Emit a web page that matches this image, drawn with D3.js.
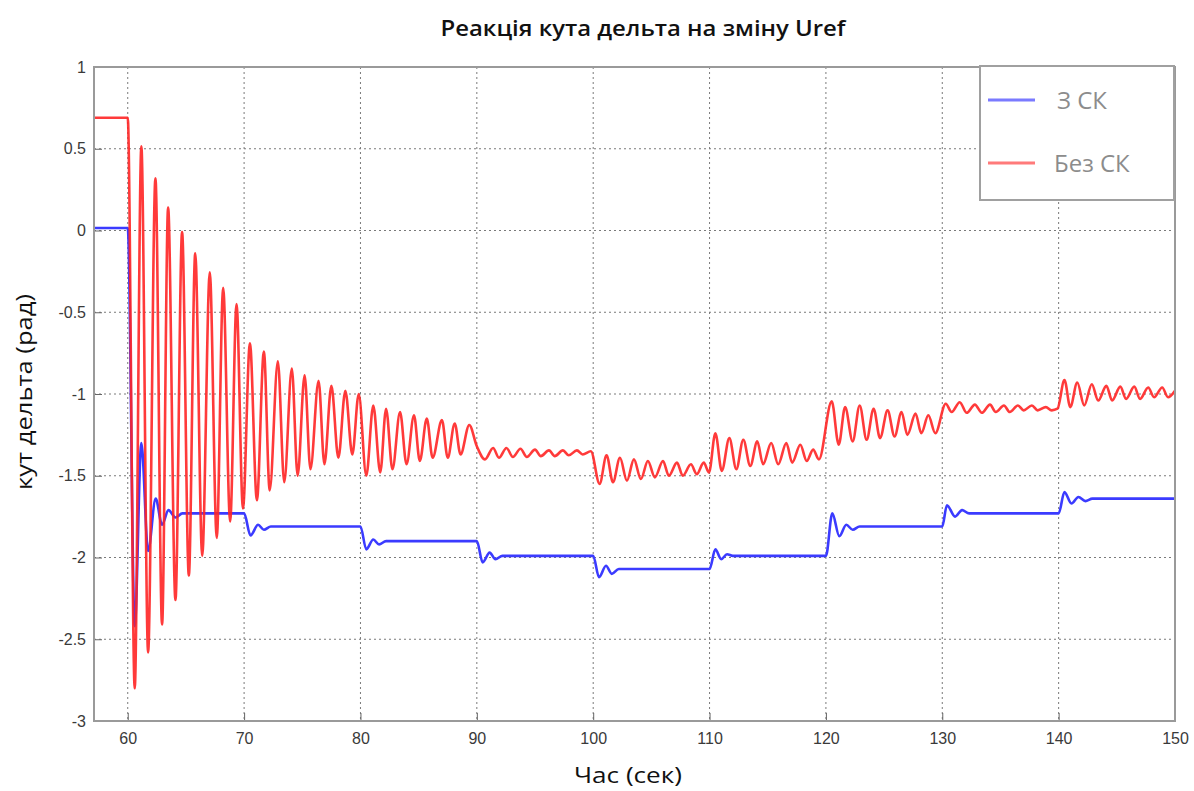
<!DOCTYPE html>
<html>
<head>
<meta charset="utf-8">
<script src="https://cdn.jsdelivr.net/npm/d3@7"></script>
<style>
  body { margin: 0; background: #fff; }
  .tick text { font-family: "Liberation Sans", Arial, sans-serif; font-size: 16px; fill: #3a3a3a; }
</style>
</head>
<body>
<svg width="1194" height="791"></svg>
<script>
// values: peaks / troughs of the delta angle response
var timeBlue = [57.1, 60.0, 60.6, 61.17, 61.75, 62.4, 62.95, 63.5, 64.1, 64.7, 70.0,
  70.55, 71.2, 71.7, 72.3, 80.0, 80.5, 81.1, 81.6, 82.2, 90.0, 90.5, 91.1, 91.6, 92.2,
  100.0, 100.5, 101.1, 101.6, 102.2, 110.0, 110.5, 111.0, 111.5, 112.0,
  120.0, 120.55, 121.15, 121.75, 122.3, 122.9, 130.0, 130.4, 131.1, 131.7, 132.3,
  140.0, 140.5, 141.1, 141.7, 142.3, 142.9, 150.0];
var deltaBlue = [0.015, 0.015, -2.42, -1.30, -1.96, -1.64, -1.80, -1.71, -1.755, -1.73, -1.73,
  -1.865, -1.80, -1.83, -1.81, -1.81, -1.95, -1.89, -1.92, -1.90, -1.90, -2.03, -1.97, -2.01, -1.99,
  -1.99, -2.12, -2.05, -2.10, -2.07, -2.07, -1.95, -2.01, -1.98, -1.99,
  -1.99, -1.73, -1.87, -1.80, -1.83, -1.81, -1.81, -1.68, -1.75, -1.71, -1.73,
  -1.73, -1.60, -1.67, -1.63, -1.655, -1.64, -1.64];

var timeRed = [57.1, 60.0, 60.6, 61.17, 61.75, 62.38, 62.95, 63.47, 64.1, 64.67, 65.25, 65.8,
  66.4, 67.05, 67.65, 68.2, 68.8, 69.35, 69.9, 70.5, 71.1, 71.7, 72.2, 72.9, 73.45, 74.1,
  74.6, 75.2, 75.7, 76.4, 76.9, 77.5, 78.1, 78.7, 79.3, 79.85, 80.5, 81.1, 81.7, 82.2,
  82.75, 83.4, 83.96, 84.6, 85.1, 85.7, 86.2, 87.0, 87.5, 88.1, 88.6, 89.35, 90.0, 90.7,
  91.4, 91.9, 92.55, 93.1, 93.75, 94.3, 95.0, 95.5, 96.2, 96.7, 97.4, 97.9, 98.6, 99.1,
  99.8, 100.55, 101.15, 101.7, 102.3, 102.9, 103.5, 104.1, 104.7, 105.3, 106.0, 106.5,
  107.2, 107.7, 108.4, 108.9, 109.5, 109.95, 110.5, 111.05, 111.7, 112.3, 112.9, 113.5,
  114.1, 114.6, 115.3, 115.9, 116.6, 117.1, 117.8, 118.35, 118.9, 119.4, 120.5, 121.1,
  121.65, 122.3, 122.9, 123.5, 124.1, 124.65, 125.3, 125.9, 126.5, 127.0, 127.7, 128.2,
  128.8, 129.4, 130.3, 130.8, 131.5, 132.1, 132.8, 133.4, 134.1, 134.6, 135.3, 135.8,
  136.5, 137.0, 137.7, 138.2, 138.9, 139.4, 139.9, 140.5, 141.0, 141.6, 142.2, 142.85,
  143.4, 144.1, 144.6, 145.3, 145.8, 146.5, 147.0, 147.7, 148.2, 148.9, 149.4, 150.0];
var deltaRed = [0.69, 0.69, -2.80, 0.515, -2.58, 0.32, -2.41, 0.14, -2.26, -0.01, -2.11, -0.14,
  -1.99, -0.256, -1.88, -0.35, -1.78, -0.45, -1.70, -0.69, -1.65, -0.74, -1.59, -0.80, -1.54, -0.845,
  -1.50, -0.885, -1.46, -0.92, -1.43, -0.95, -1.39, -0.98, -1.37, -1.00, -1.50, -1.07, -1.48, -1.09,
  -1.46, -1.11, -1.43, -1.13, -1.41, -1.15, -1.39, -1.16, -1.39, -1.18, -1.37, -1.19, -1.32, -1.40,
  -1.33, -1.39, -1.33, -1.385, -1.335, -1.385, -1.34, -1.38, -1.345, -1.38, -1.345, -1.375, -1.345, -1.37,
  -1.35, -1.55, -1.375, -1.54, -1.39, -1.53, -1.40, -1.52, -1.41, -1.51, -1.41, -1.50,
  -1.42, -1.50, -1.43, -1.49, -1.42, -1.48, -1.24, -1.47, -1.27, -1.46, -1.28, -1.44,
  -1.29, -1.43, -1.30, -1.43, -1.30, -1.42, -1.31, -1.41, -1.34, -1.40, -1.045, -1.31,
  -1.08, -1.29, -1.07, -1.28, -1.09, -1.27, -1.10, -1.26, -1.11, -1.25, -1.12, -1.24,
  -1.13, -1.24, -1.06, -1.11, -1.05, -1.115, -1.065, -1.115, -1.065, -1.11, -1.07, -1.11,
  -1.07, -1.10, -1.07, -1.10, -1.08, -1.10, -1.09, -0.915, -1.08, -0.93, -1.07, -0.94,
  -1.04, -0.95, -1.04, -0.955, -1.03, -0.955, -1.03, -0.96, -1.02, -0.96, -1.02, -0.98];

var xTicks = [60, 70, 80, 90, 100, 110, 120, 130, 140, 150];
var yTicks = [1, 0.5, 0, -0.5, -1, -1.5, -2, -2.5, -3];
var seriesNames = ["З СК", "Без СК"];

var svg = d3.select("svg"),
    plotLeft = 94, plotRight = 1175, plotTop = 67, plotBottom = 721;

var x = d3.scaleLinear().domain([57.1, 150]).range([plotLeft, plotRight]);
var y = d3.scaleLinear().domain([-3, 1]).range([plotBottom, plotTop]);

// title and axis labels
svg.append("text")
  .attr("x", 643).attr("y", 36)
  .attr("text-anchor", "middle")
  .attr("textLength", 405).attr("lengthAdjust", "spacingAndGlyphs")
  .style("font-family", "'Open Sans', sans-serif").style("font-size", "22px").style("fill", "#111")
  .style("font-weight", 600)
  .text("Реакція кута дельта на зміну Uref");

svg.append("text")
  .attr("x", 628).attr("y", 783)
  .attr("text-anchor", "middle")
  .attr("textLength", 108).attr("lengthAdjust", "spacingAndGlyphs")
  .style("font-family", "'Open Sans', sans-serif").style("font-size", "21px").style("fill", "#111")
  .text("Час (сек)");

svg.append("text")
  .attr("transform", "translate(32,392) rotate(-90)")
  .attr("text-anchor", "middle")
  .attr("textLength", 196).attr("lengthAdjust", "spacingAndGlyphs")
  .style("font-family", "'Open Sans', sans-serif").style("font-size", "21px").style("fill", "#111")
  .text("кут дельта (рад)");

// dotted grid
var grid = svg.append("g")
  .attr("stroke", "#7a7a7a")
  .attr("stroke-width", 1)
  .attr("stroke-dasharray", "2,3");

grid.selectAll(".gx")
  .data(xTicks)
  .enter().append("line")
  .attr("x1", function(d) { return x(d); }).attr("x2", function(d) { return x(d); })
  .attr("y1", plotTop).attr("y2", plotBottom);

grid.selectAll(".gy")
  .data(yTicks)
  .enter().append("line")
  .attr("x1", plotLeft).attr("x2", plotRight)
  .attr("y1", function(d) { return y(d); }).attr("y2", function(d) { return y(d); });

// axes with inward ticks
svg.append("g")
  .attr("transform", "translate(0," + plotBottom + ")")
  .call(d3.axisBottom(x).tickValues(xTicks).tickSizeInner(-8).tickSizeOuter(0).tickPadding(12)
    .tickFormat(function(d) { return String(d); }));

svg.append("g")
  .attr("transform", "translate(" + plotLeft + ",0)")
  .call(d3.axisLeft(y).tickValues(yTicks).tickSizeInner(-8).tickSizeOuter(0).tickPadding(8)
    .tickFormat(function(d) { return String(d); }));

svg.selectAll(".domain").remove();
svg.selectAll(".tick line").attr("stroke", "#666");

// lines
svg.append("clipPath").attr("id", "plot")
  .append("rect").attr("x", plotLeft).attr("y", plotTop)
  .attr("width", plotRight - plotLeft).attr("height", plotBottom - plotTop);

function curve(time, delta) {
  return d3.line()
    .x(function(i) { return x(time[i]); })
    .y(function(i) { return y(delta[i]); })
    .curve(d3.curveMonotoneX)(d3.range(time.length));
}

var lines = svg.append("g").attr("clip-path", "url(#plot)").attr("fill", "none");

lines.append("path")
  .attr("d", curve(timeBlue, deltaBlue))
  .attr("stroke", "#3b3bff")
  .attr("stroke-width", 2.6);

lines.append("path")
  .attr("d", curve(timeRed, deltaRed))
  .attr("stroke", "#ff2525")
  .attr("stroke-opacity", 0.9)
  .attr("stroke-width", 2.6);

// frame
svg.append("rect")
  .attr("x", plotLeft).attr("y", plotTop)
  .attr("width", plotRight - plotLeft).attr("height", plotBottom - plotTop)
  .attr("fill", "none")
  .attr("stroke", "#9a9a9a")
  .attr("stroke-width", 2);

// legend
var legend = svg.append("g");
legend.append("rect")
  .attr("x", 980).attr("y", 66)
  .attr("width", 194).attr("height", 134)
  .attr("fill", "#fff")
  .attr("stroke", "#a0a0a0")
  .attr("stroke-width", 2);

var legendColors = ["#7a7aff", "#ff7a7a"];
var item = legend.selectAll(".item")
  .data(seriesNames)
  .enter().append("g")
  .attr("transform", function(d, i) { return "translate(988," + (100 + i * 63) + ")"; });

item.append("line")
  .attr("x1", 0).attr("x2", 47)
  .attr("stroke", function(d, i) { return legendColors[i]; })
  .attr("stroke-width", 3);

item.append("text")
  .attr("x", function(d, i) { return i === 0 ? 69 : 66; })
  .attr("y", 9)
  .style("font-family", "'Open Sans', sans-serif")
  .style("font-size", "24px")
  .style("fill", "#8c8c8c")
  .text(function(d) { return d; });
</script>
</body>
</html>
